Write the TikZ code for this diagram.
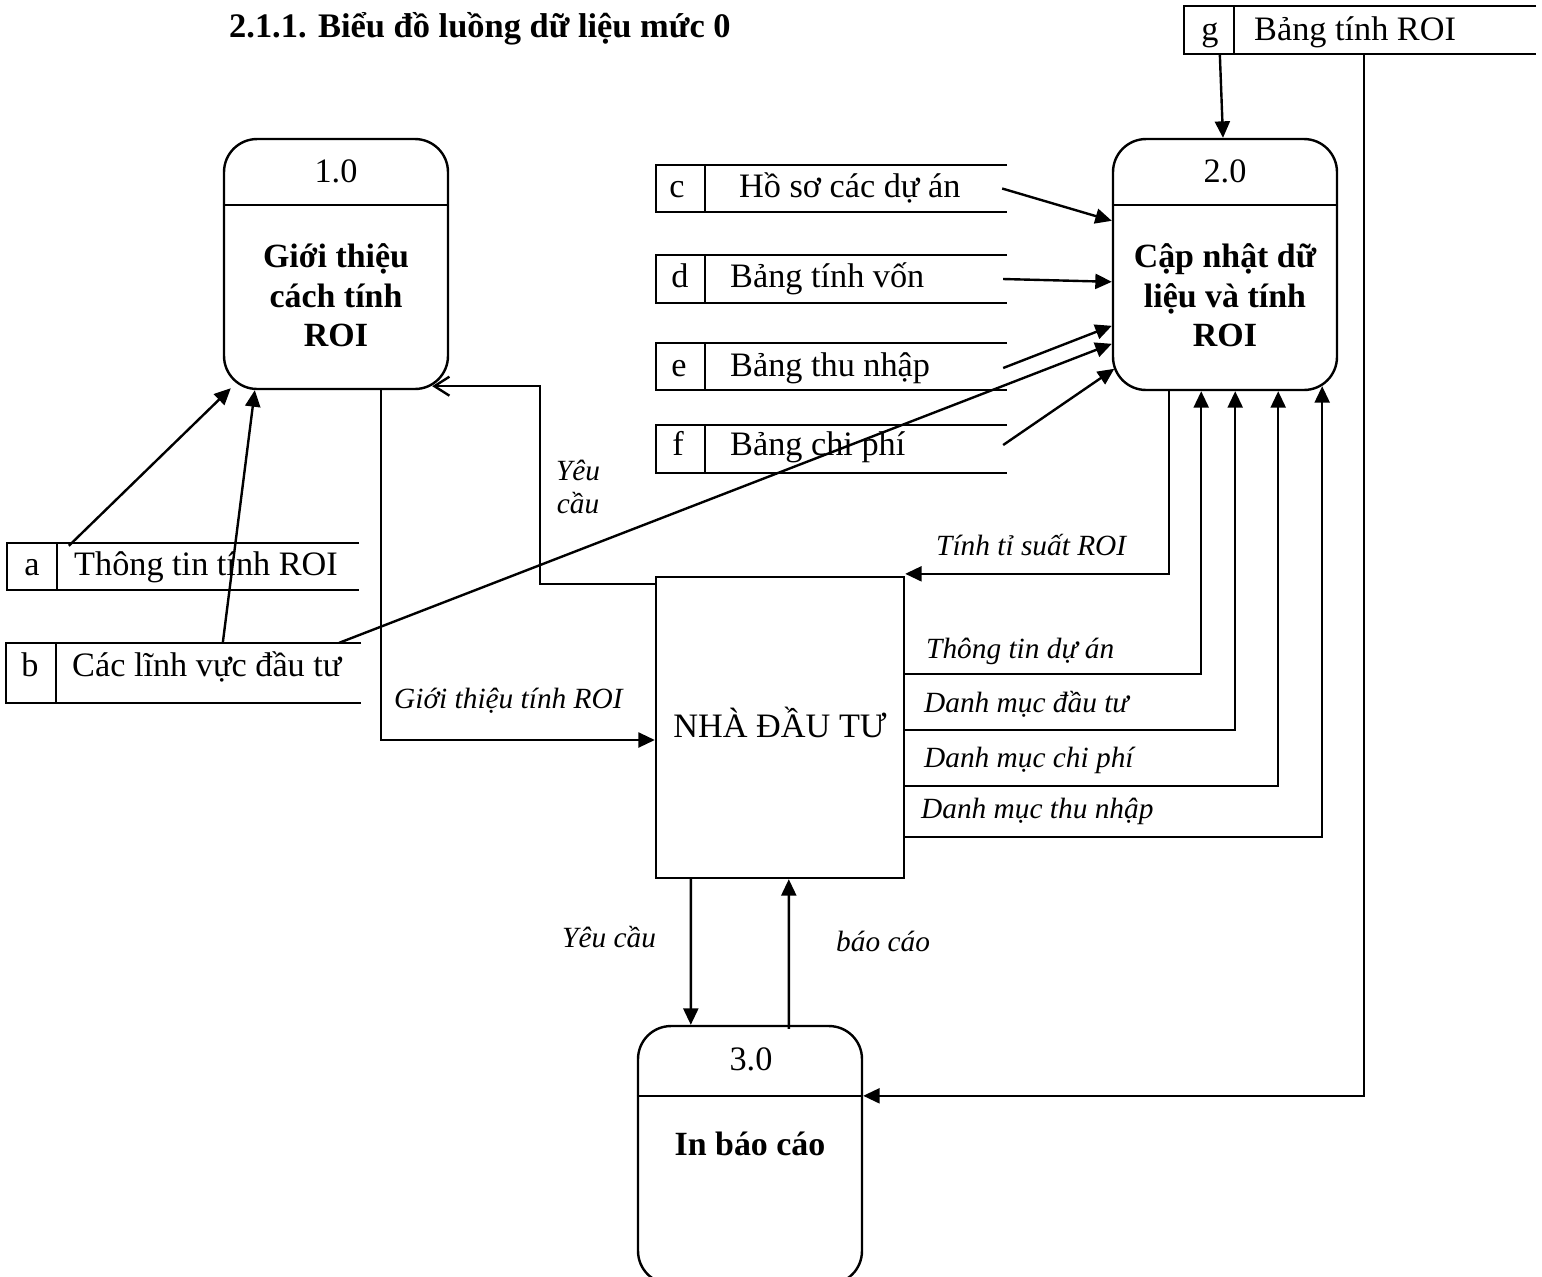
\documentclass[tikz,border=0pt]{standalone}
\usepackage{fontspec}
\setmainfont{Liberation Serif}
\usetikzlibrary{arrows.meta}
\begin{document}
\begin{tikzpicture}[x=0.02cm,y=-0.02cm,
  line width=0.048cm,
  proc/.style={draw, rectangle, rounded corners=0.66cm, minimum width=4.48cm, inner sep=0pt},
  store/.style={rectangle, inner sep=0pt},
  entity/.style={draw, rectangle, inner sep=0pt, minimum width=4.96cm, minimum height=6.02cm},
  rtext/.style={font=\fontsize{19.5}{23}\selectfont, inner sep=0pt},
  btext/.style={font=\fontsize{19.3}{23}\selectfont\bfseries, inner sep=0pt, anchor=base},
  itext/.style={font=\fontsize{16.7}{20}\selectfont\itshape, inner sep=0pt, anchor=base west},
  flow/.style={-{Triangle[length=0.33cm,width=0.3cm]}},
  openflow/.style={-{Straight Barb[length=0.3cm,width=0.38cm]}},
]
\useasboundingbox (0,0) rectangle (1542,1276);
\clip (0,0) rectangle (1542,1276);

% heading
\node[anchor=base west, inner sep=0pt, font=\fontsize{19.6}{23}\selectfont\bfseries] (title) at (228,37) {2.1.1. Biểu đồ luồng dữ liệu mức 0};

% processes
\node[proc, minimum height=5.0cm]  (p1) at (336,264) {};
\node[proc, minimum height=5.02cm] (p2) at (1225,264.5) {};
\node[proc, minimum height=5.16cm] (p3) at (750,1155) {};
\draw (p1.north west |- 0,205) -- (p1.north east |- 0,205);
\draw (p2.north west |- 0,205) -- (p2.north east |- 0,205);
\draw ([yshift=-1.42cm]p3.north west) -- ([yshift=-1.42cm]p3.north east);

\node[rtext, anchor=base] (n1) at (336,182) {1.0};
\node[btext] (p1a) at (336,267) {Giới thiệu};
\node[btext] (p1b) at (336,307) {cách tính};
\node[btext] (p1c) at (336,346) {ROI};

\node[rtext, anchor=base] (n2) at (1225,182) {2.0};
\node[btext] (p2a) at (1225,267) {Cập nhật dữ};
\node[btext] (p2b) at (1225,307) {liệu và tính};
\node[btext] (p2c) at (1225,346) {ROI};

\node[rtext, anchor=base] (n3) at (751,1070) {3.0};
\node[btext] (p3a) at (750,1155) {In báo cáo};

% external entity
\node[entity] (nd) at (780,727.5) {};
\node[rtext, anchor=base] (ndt) at (780,737) {NHÀ ĐẦU TƯ};

% data stores
\node[store, minimum width=7.0cm,  minimum height=0.9cm]  (sa) at (183,566.5) {};
\node[store, minimum width=7.06cm, minimum height=1.16cm] (sb) at (183.5,673) {};
\node[store, minimum width=6.98cm, minimum height=0.9cm]  (sc) at (831.5,188.5) {};
\node[store, minimum width=6.98cm, minimum height=0.92cm] (sd) at (831.5,279) {};
\node[store, minimum width=6.98cm, minimum height=0.9cm]  (se) at (831.5,366.5) {};
\node[store, minimum width=6.98cm, minimum height=0.92cm] (sf) at (831.5,449) {};
\node[store, minimum width=7.0cm,  minimum height=0.92cm] (sg) at (1360,30) {};
\foreach \s/\d in {sa/1,sb/1,sc/0.98,sd/0.98,se/0.98,sf/0.98,sg/1}{
  \draw (\s.north east) -- (\s.north west) -- (\s.south west) -- (\s.south east);
  \draw ([xshift=\d cm]\s.north west) -- ([xshift=\d cm]\s.south west);
}

\node[rtext, anchor=base] (la) at (32,575) {a};
\node[rtext, anchor=base west] (ta) at (73,575) {Thông tin tính ROI};
\node[rtext, anchor=base] (lb) at (30,676) {b};
\node[rtext, anchor=base west] (tb) at (71,676) {Các lĩnh vực đầu tư};
\node[rtext, anchor=base] (lc) at (677,197) {c};
\node[rtext, anchor=base west] (tc) at (738,197) {Hồ sơ các dự án};
\node[rtext, anchor=base] (ld) at (680,287) {d};
\node[rtext, anchor=base west] (td) at (729,287) {Bảng tính vốn};
\node[rtext, anchor=base] (le) at (679,376) {e};
\node[rtext, anchor=base west] (te) at (729,376) {Bảng thu nhập};
\node[rtext, anchor=base] (lf) at (678,455) {f};
\node[rtext, anchor=base west] (tf) at (729,455) {Bảng chi phí};
\node[rtext, anchor=base] (lg) at (1210,40) {g};
\node[rtext, anchor=base west] (tg) at (1253,40) {Bảng tính ROI};

% flows into process 2.0
\draw[flow] ([xshift=0.72cm]sg.south west) -- ([xshift=-0.04cm]p2.north);
\draw[flow] ([xshift=-0.1cm]sc.east) -- ([yshift=-1.66cm]p2.north west);
\draw[flow] ([xshift=-0.08cm]sd.east) -- ([yshift=-2.88cm]p2.north west);
\draw[flow] ([xshift=-0.08cm,yshift=-0.03cm]se.east) -- ([yshift=-3.76cm]p2.north west);
\draw[flow] ([xshift=-0.44cm]sb.north east) -- ([yshift=-4.12cm]p2.north west);
\draw[flow] ([xshift=-0.08cm,yshift=0.08cm]sf.east) -- ([xshift=0.05cm,yshift=-4.62cm]p2.north west);

% flows into process 1.0
\draw[flow] ([xshift=1.24cm,yshift=-0.06cm]sa.north west) -- ([xshift=0.16cm,yshift=0.04cm]p1.south west);
\draw[flow] ([xshift=4.34cm]sb.north west) -- ([xshift=0.64cm]p1.south west);

% requests and replies between the investor and process 1.0
\coordinate (p1tip) at ([xshift=-0.34cm,yshift=0.08cm]p1.south east);
\coordinate (ycol) at (540,0);
\draw[openflow] ([yshift=-0.16cm]nd.north west) -| (ycol |- p1tip) -- (p1tip);
\draw[flow] ([xshift=-1.36cm]p1.south east) |- ([yshift=-0.25cm]nd.west);
\node[itext, anchor=base] (lyc1) at (578,480) {Yêu};
\node[itext, anchor=base] (lyc2) at (578,513) {cầu};
\node[itext] (lgt) at (393,708) {Giới thiệu tính ROI};

% process 2.0 and the investor
\draw[flow] ([xshift=-3.38cm]p2.south east) |- ([yshift=0.04cm]nd.north east);
\draw[flow] ([xshift=-0.04cm,yshift=-1.96cm]nd.north east) -| ([xshift=-2.74cm]p2.south east);
\draw[flow] ([xshift=-0.04cm,yshift=-3.08cm]nd.north east) -| ([xshift=-2.06cm]p2.south east);
\draw[flow] ([xshift=-0.04cm,yshift=-4.2cm]nd.north east) -| ([xshift=-1.2cm]p2.south east);
\draw[flow] ([xshift=-0.04cm,yshift=-5.22cm]nd.north east) -| ([xshift=-0.32cm,yshift=0.1cm]p2.south east);
\node[itext] (lts) at (935,555) {Tính tỉ suất ROI};
\node[itext] (lttda) at (925,658) {Thông tin dự án};
\node[itext] (ldmdt) at (923,712) {Danh mục đầu tư};
\node[itext] (ldmcp) at (923,767) {Danh mục chi phí};
\node[itext] (ldmtn) at (920,818) {Danh mục thu nhập};

% investor and process 3.0
\draw[flow] ([xshift=0.72cm]nd.south west) -- ([xshift=1.08cm]p3.north west);
\draw[flow] ([xshift=3.04cm,yshift=-0.08cm]p3.north west) -- ([xshift=2.68cm]nd.south west);
\node[itext] (lyc3) at (561,947) {Yêu cầu};
\node[itext] (lbc) at (835,951) {báo cáo};

% ROI table to process 3.0
\draw[flow] ([xshift=3.6cm]sg.south west) |- ([yshift=-1.42cm]p3.north east);
\end{tikzpicture}
\end{document}
